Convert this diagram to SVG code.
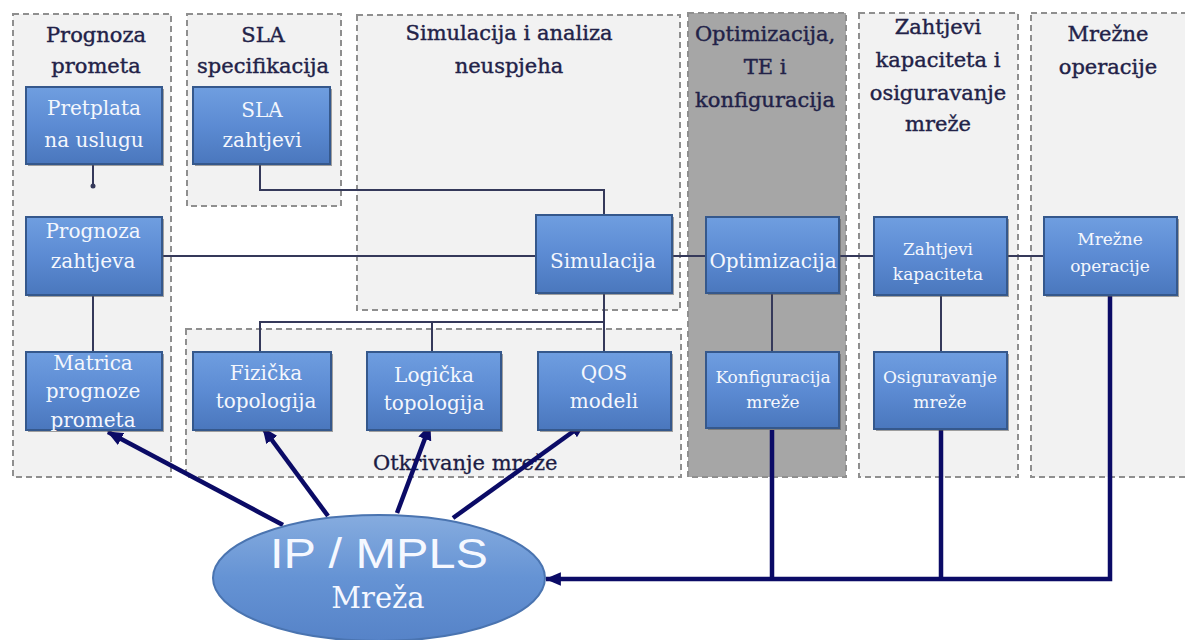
<svg xmlns="http://www.w3.org/2000/svg" width="1185" height="640" viewBox="0 0 1185 640">
<style>
.panel{fill:#f2f2f2;stroke:#8f8f8f;stroke-width:2;stroke-dasharray:6 4}
.dark{fill:#a6a6a6}
.box{fill:url(#bg);stroke:#35588c;stroke-width:2}
.shadow{fill:#5a5a5a;opacity:0.55}
.title{font-family:"DejaVu Serif","Liberation Serif",serif;font-size:21px;fill:#222248;stroke:#222248;stroke-width:0.4;text-anchor:middle}
.bt{font-family:"DejaVu Serif","Liberation Serif",serif;font-size:20px;fill:#f4f7fd;text-anchor:middle}
.bs{font-family:"DejaVu Serif","Liberation Serif",serif;font-size:17px;fill:#f4f7fd;text-anchor:middle}
.thin{fill:none;stroke:#35395a;stroke-width:2}
.thick{fill:none;stroke:#0b0b66;stroke-width:4.5}
</style>
<defs>
<linearGradient id="bg" x1="0" y1="0" x2="0" y2="1">
<stop offset="0" stop-color="#6f9ee0"/>
<stop offset="0.5" stop-color="#5c8bd3"/>
<stop offset="1" stop-color="#4a77bd"/>
</linearGradient>
<linearGradient id="eg" x1="0" y1="0" x2="0" y2="1">
<stop offset="0" stop-color="#86acdf"/>
<stop offset="0.5" stop-color="#6593d4"/>
<stop offset="1" stop-color="#5683c8"/>
</linearGradient>
<marker id="ah" viewBox="0 0 14 12" refX="13" refY="6" markerWidth="16" markerHeight="14" markerUnits="userSpaceOnUse" orient="auto">
<path d="M0,0 L14,6 L0,12 z" fill="#0b0b66"/>
</marker>
</defs>

<g id="panels">
<rect class="panel" x="13" y="14" width="158" height="463"/>
<rect class="panel" x="187" y="14" width="154" height="192"/>
<rect class="panel" x="357" y="15" width="323" height="295"/>
<rect class="panel" x="186" y="329" width="495" height="148"/>
<rect class="panel dark" x="688" y="13" width="158" height="464"/>
<rect class="panel" x="859" y="13" width="159" height="464"/>
<rect class="panel" x="1031" y="13" width="170" height="464"/>
</g>

<g id="titles">
<text class="title" x="96" y="42">Prognoza</text>
<text class="title" x="96" y="73">prometa</text>
<text class="title" x="263" y="42">SLA</text>
<text class="title" x="263" y="73">specifikacija</text>
<text class="title" x="509" y="40">Simulacija i analiza</text>
<text class="title" x="509" y="73">neuspjeha</text>
<text class="title" x="765" y="41">Optimizacija,</text>
<text class="title" x="765" y="74">TE i</text>
<text class="title" x="765" y="107">konfiguracija</text>
<text class="title" x="938" y="34">Zahtjevi</text>
<text class="title" x="938" y="67">kapaciteta i</text>
<text class="title" x="938" y="100">osiguravanje</text>
<text class="title" x="938" y="131">mreže</text>
<text class="title" x="1108" y="41">Mrežne</text>
<text class="title" x="1108" y="74">operacije</text>
<text x="373" y="470" font-family="DejaVu Serif, Liberation Serif, serif" font-size="21" fill="#1c1c44" stroke="#1c1c44" stroke-width="0.3">Otkrivanje mreže</text>
</g>

<g id="connectors">
<path class="thin" d="M93,164 V187"/>
<circle cx="93" cy="186" r="2.5" fill="#35395a"/>
<path class="thin" d="M260,164 V190 H604 V215"/>
<path class="thin" d="M162,256 H536"/>
<path class="thin" d="M93,295 V352"/>
<path class="thin" d="M672,256 H706"/>
<path class="thin" d="M839,256 H874"/>
<path class="thin" d="M1007,256 H1044"/>
<path class="thin" d="M604,293 V352 M260,352 V322 H604 M432,322 V352"/>
<path class="thin" d="M772,293 V352"/>
<path class="thin" d="M941,295 V352"/>
<path class="thick" d="M772,430 V579"/>
<path class="thick" d="M941,430 V579"/>
<path class="thick" d="M1110,295 V579 H546" marker-end="url(#ah)"/>
<path class="thick" d="M283,525 L108,432" marker-end="url(#ah)"/>
<path class="thick" d="M328,516 L263,428" marker-end="url(#ah)"/>
<path class="thick" d="M397,513 L430,425" marker-end="url(#ah)"/>
<path class="thick" d="M453,518 L585,423" marker-end="url(#ah)"/>
</g>

<g id="n-pretplata">
<rect class="shadow" x="28" y="89" width="136" height="77"/>
<rect class="box" x="26" y="87" width="136" height="77"/>
<text class="bt" x="94" y="115">Pretplata</text>
<text class="bt" x="94" y="147">na uslugu</text>
</g>
<g id="n-sla">
<rect class="shadow" x="195" y="89" width="137" height="77"/>
<rect class="box" x="193" y="87" width="137" height="77"/>
<text class="bt" x="262" y="117">SLA</text>
<text class="bt" x="262" y="147">zahtjevi</text>
</g>
<g id="n-prognoza">
<rect class="shadow" x="28" y="219" width="136" height="78"/>
<rect class="box" x="26" y="217" width="136" height="78"/>
<text class="bt" x="93" y="238">Prognoza</text>
<text class="bt" x="93" y="268">zahtjeva</text>
</g>
<g id="n-matrica">
<rect class="shadow" x="28" y="354" width="136" height="78"/>
<rect class="box" x="26" y="352" width="136" height="78"/>
<text class="bt" x="93" y="370">Matrica</text>
<text class="bt" x="93" y="398">prognoze</text>
<text class="bt" x="93" y="427">prometa</text>
</g>
<g id="n-simulacija">
<rect class="shadow" x="538" y="217" width="136" height="78"/>
<rect class="box" x="536" y="215" width="136" height="78"/>
<text class="bt" x="603" y="268" font-size="19">Simulacija</text>
</g>
<g id="n-fizicka">
<rect class="shadow" x="195" y="354" width="138" height="78"/>
<rect class="box" x="193" y="352" width="138" height="78"/>
<text class="bt" x="266" y="380">Fizička</text>
<text class="bt" x="266" y="408">topologija</text>
</g>
<g id="n-logicka">
<rect class="shadow" x="369" y="354" width="134" height="78"/>
<rect class="box" x="367" y="352" width="134" height="78"/>
<text class="bt" x="434" y="382">Logička</text>
<text class="bt" x="434" y="410">topologija</text>
</g>
<g id="n-qos">
<rect class="shadow" x="540" y="354" width="133" height="78"/>
<rect class="box" x="538" y="352" width="133" height="78"/>
<text class="bt" x="604" y="380">QOS</text>
<text class="bt" x="604" y="408">modeli</text>
</g>
<g id="n-optimizacija">
<rect class="shadow" x="708" y="219" width="133" height="76"/>
<rect class="box" x="706" y="217" width="133" height="76"/>
<text class="bt" x="773" y="268" font-size="19">Optimizacija</text>
</g>
<g id="n-konfiguracija">
<rect class="shadow" x="708" y="354" width="133" height="76"/>
<rect class="box" x="706" y="352" width="133" height="76"/>
<text class="bs" x="773" y="383">Konfiguracija</text>
<text class="bs" x="773" y="408">mreže</text>
</g>
<g id="n-zahtjevi">
<rect class="shadow" x="876" y="219" width="133" height="78"/>
<rect class="box" x="874" y="217" width="133" height="78"/>
<text class="bs" x="938" y="255">Zahtjevi</text>
<text class="bs" x="938" y="280">kapaciteta</text>
</g>
<g id="n-osiguravanje">
<rect class="shadow" x="876" y="354" width="133" height="77"/>
<rect class="box" x="874" y="352" width="133" height="77"/>
<text class="bs" x="940" y="383">Osiguravanje</text>
<text class="bs" x="940" y="408">mreže</text>
</g>
<g id="n-mrezne">
<rect class="shadow" x="1046" y="219" width="133" height="78"/>
<rect class="box" x="1044" y="217" width="133" height="78"/>
<text class="bs" x="1110" y="245" font-size="16">Mrežne</text>
<text class="bs" x="1110" y="272" font-size="16">operacije</text>
</g>
<g id="n-ipmpls">
<ellipse cx="379" cy="578" rx="166" ry="63" fill="url(#eg)" stroke="#4a74b0" stroke-width="2"/>
<text x="379" y="568" text-anchor="middle" font-family="Liberation Sans, Arial, sans-serif" font-size="42" fill="#f5f8ff" textLength="218" lengthAdjust="spacingAndGlyphs">IP / MPLS</text>
<text x="378" y="608" text-anchor="middle" font-family="DejaVu Serif, Liberation Serif, serif" font-size="29" fill="#f5f8ff">Mreža</text>
</g>
</svg>
